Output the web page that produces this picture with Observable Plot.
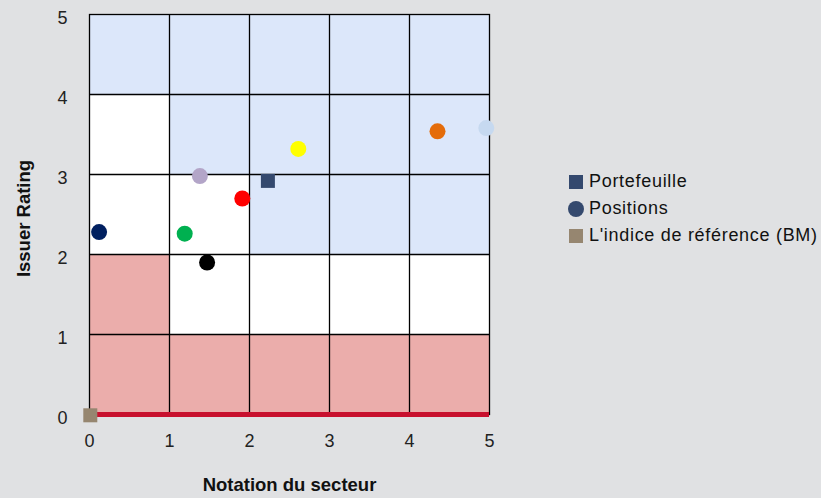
<!DOCTYPE html>
<html>
<head>
<meta charset="utf-8">
<script src="https://cdn.jsdelivr.net/npm/d3@7"></script>
<script src="https://cdn.jsdelivr.net/npm/@observablehq/plot@0.6"></script>
<style>
  html, body { margin: 0; padding: 0; background: #e0e1e3; }
  #wrap { position: relative; width: 821px; height: 498px; overflow: hidden; font-family: "Liberation Sans", Arial, sans-serif; }
  #legend { position: absolute; left: 568px; top: 168px; font-size: 18px; letter-spacing: 0.7px; color: #111; }
  .row { display: flex; align-items: center; height: 27px; white-space: nowrap; }
  .row svg { margin-right: 4px; }
</style>
</head>
<body>
<div id="wrap"><div id="chart"></div><div id="legend"></div></div>
<script>
// Grid cells (x from, y from, colour of cell)
const cellX = [0,1,2,3,4, 0,1,2,3,4, 0,1,2,3,4, 0,1,2,3,4, 0,1,2,3,4];
const cellY = [4,4,4,4,4, 3,3,3,3,3, 2,2,2,2,2, 1,1,1,1,1, 0,0,0,0,0];
const BLUE = "#dce7fa", WHITE = "#ffffff", PINK = "#ebadab";
const cellColor = [
  BLUE, BLUE, BLUE, BLUE, BLUE,
  WHITE, BLUE, BLUE, BLUE, BLUE,
  WHITE, WHITE, BLUE, BLUE, BLUE,
  PINK, WHITE, WHITE, WHITE, WHITE,
  PINK, PINK, PINK, PINK, PINK
];

// Positions (circles)
const posX = [0.12, 1.19, 1.47, 1.38, 1.91, 2.61, 4.35, 4.96];
const posY = [2.28, 2.26, 1.90, 2.98, 2.70, 3.32, 3.54, 3.58];
const posColor = ["#002060", "#00b050", "#000000", "#b3a5c8", "#ff0000", "#ffff00", "#e46c0a", "#c6d9f0"];

// Portefeuille and benchmark (squares)
const portX = [2.23], portY = [2.92];
const bmX = [0.01], bmY = [-0.01];

const ticks = [0, 1, 2, 3, 4, 5];

const legendLabels = ["Portefeuille", "Positions", "L'indice de référence (BM)"];
const legendColors = ["#34496e", "#34496e", "#968670"];
const legendShapes = ["square", "circle", "square"];

const cells = cellX.map((x, i) => ({x1: x, x2: x + 1, y1: cellY[i], y2: cellY[i] + 1, c: cellColor[i]}));
const positions = posX.map((x, i) => ({x, y: posY[i], c: posColor[i]}));
const port = portX.map((x, i) => ({x, y: portY[i]}));
const bm = bmX.map((x, i) => ({x, y: bmY[i]}));

const chart = Plot.plot({
  width: 821,
  height: 498,
  marginLeft: 89,
  marginRight: 332,
  marginTop: 14,
  marginBottom: 84,
  style: {background: "transparent", fontFamily: "Liberation Sans, Arial, sans-serif", fontSize: "18px", color: "#222"},
  x: {domain: [0, 5]},
  y: {domain: [0, 5]},
  color: {type: "identity"},
  marks: [
    Plot.rect(cells, {x1: "x1", x2: "x2", y1: "y1", y2: "y2", fill: "c"}),
    Plot.gridX([1, 2, 3, 4], {stroke: "#000", strokeOpacity: 1, strokeWidth: 1.3}),
    Plot.gridY([1, 2, 3, 4], {stroke: "#000", strokeOpacity: 1, strokeWidth: 1.3}),
    Plot.frame({stroke: "#000", strokeWidth: 1.3}),
    Plot.ruleY([0], {stroke: "#c8102e", strokeWidth: 5}),
    Plot.dot(positions, {x: "x", y: "y", r: 8, fill: "c"}),
    Plot.dot(port, {x: "x", y: "y", r: 7.9, symbol: "square", fill: "#34496e"}),
    Plot.dot(bm, {x: "x", y: "y", r: 7.9, symbol: "square", fill: "#968670"}),
    Plot.axisX(ticks, {tickSize: 0, tickPadding: 20, label: null, fontSize: 18, tickFormat: d3.format("d")}),
    Plot.axisY(ticks, {tickSize: 0, tickPadding: 22, label: null, fontSize: 18, dy: 4, tickFormat: d3.format("d")}),
    Plot.text(["Notation du secteur"], {frameAnchor: "bottom", dy: 76, fontWeight: "bold", fontSize: 18.5, fill: "#111"}),
    Plot.text(["Issuer Rating"], {frameAnchor: "left", textAnchor: "middle", dx: -65, dy: 4, rotate: -90, fontWeight: "bold", fontSize: 18.5, fill: "#111"})
  ]
});
document.getElementById("chart").appendChild(chart);

const legend = document.getElementById("legend");
legendLabels.forEach((lab, i) => {
  const row = document.createElement("div");
  row.className = "row";
  const shape = legendShapes[i] === "square"
    ? `<rect x="1" y="1" width="14" height="14" fill="${legendColors[i]}"/>`
    : `<circle cx="8" cy="8" r="8" fill="${legendColors[i]}"/>`;
  row.innerHTML = `<svg width="17" height="16">${shape}</svg><span>${lab}</span>`;
  legend.appendChild(row);
});
</script>
</body>
</html>
